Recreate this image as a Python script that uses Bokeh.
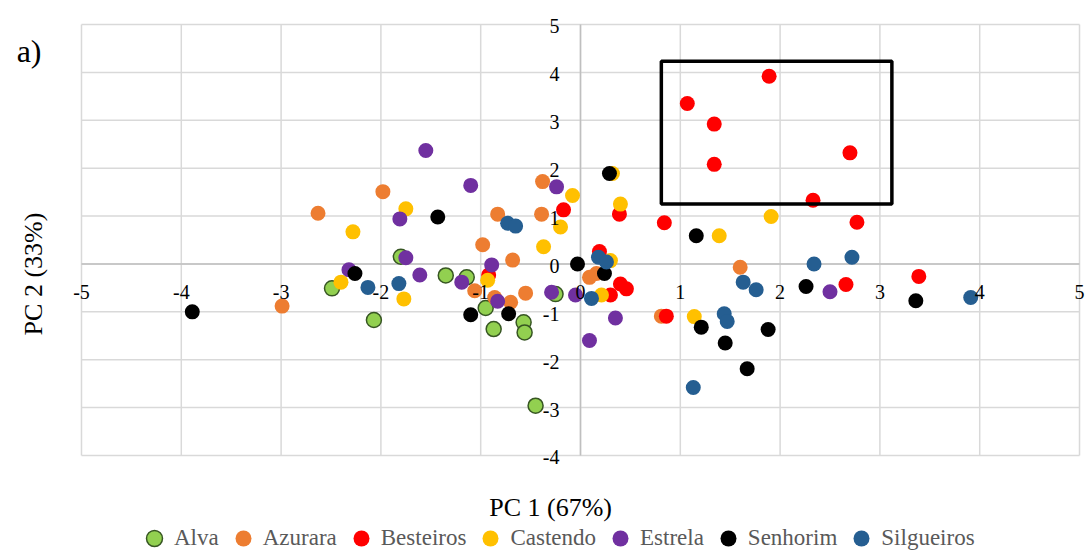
from bokeh.plotting import figure
from bokeh.models import Range1d, Legend, LegendItem, Label
from bokeh.core.properties import value
from bokeh.embed import file_html
from bokeh.resources import INLINE

# PCA scores (PC1, PC2) per region
regions = ["Alva", "Azurara", "Besteiros", "Castendo", "Estrela", "Senhorim", "Silgueiros"]
colors = ["#92D050", "#ED7D31", "#FF0000", "#FFC000", "#7030A0", "#000000", "#255E91"]

alva_pc1 = [-1.80, -2.49, -2.07, -1.35, -1.14, -0.95, -0.87, -0.57, -0.56, -0.25, -0.45]
alva_pc2 = [0.15, -0.51, -1.17, -0.24, -0.28, -0.92, -1.36, -1.22, -1.43, -0.63, -2.96]

azurara_pc1 = [-1.98, -2.63, -2.99, -0.38, -0.83, -0.39, -0.98, -0.68, -1.06, -0.86, -0.70, -0.55, 0.09, 0.16, 0.81, 1.60]
azurara_pc2 = [1.51, 1.06, -0.88, 1.72, 1.04, 1.04, 0.40, 0.08, -0.56, -0.70, -0.80, -0.61, -0.28, -0.20, -1.09, -0.07]

besteiros_pc1 = [1.89, 1.07, 1.34, 1.34, 2.70, 2.33, 2.77, 3.39, 2.66, -0.17, 0.39, 0.84, 0.19, 0.40, 0.46, 0.30, 0.86, -0.92]
besteiros_pc2 = [3.92, 3.35, 2.92, 2.08, 2.32, 1.33, 0.87, -0.26, -0.43, 1.13, 1.04, 0.86, 0.26, -0.42, -0.52, -0.65, -1.09, -0.23]

castendo_pc1 = [-2.28, -1.75, -2.40, -1.77, -0.93, -0.37, -0.08, -0.20, 0.32, 0.40, 0.30, 0.21, 1.14, 1.39, 1.91]
castendo_pc2 = [0.67, 1.15, -0.38, -0.73, -0.34, 0.36, 1.43, 0.77, 1.89, 1.25, 0.07, -0.65, -1.10, 0.59, 0.99]

estrela_pc1 = [-1.55, -1.10, -0.24, -1.81, -1.75, -2.32, -1.61, -1.19, -0.89, -0.83, -0.29, -0.05, 0.35, 0.09, 2.50]
estrela_pc2 = [2.37, 1.64, 1.61, 0.94, 0.13, -0.12, -0.23, -0.38, -0.02, -0.78, -0.59, -0.65, -1.13, -1.60, -0.58]

senhorim_pc1 = [-3.89, -2.26, -1.43, -1.10, -0.72, -0.03, 0.29, 0.24, 1.16, 1.21, 1.45, 1.67, 1.88, 2.26, 3.36]
senhorim_pc2 = [-1.00, -0.20, 0.98, -1.06, -1.04, 0.00, 1.89, -0.20, 0.59, -1.32, -1.65, -2.19, -1.37, -0.47, -0.77]

silgueiros_pc1 = [-2.13, -1.82, -0.73, -0.65, 0.18, 0.26, 0.11, 1.44, 1.47, 1.13, 1.63, 1.76, 2.34, 2.72, 3.91]
silgueiros_pc2 = [-0.49, -0.41, 0.85, 0.79, 0.14, 0.04, -0.72, -1.04, -1.20, -2.58, -0.38, -0.54, 0.00, 0.14, -0.70]

pc1 = [alva_pc1, azurara_pc1, besteiros_pc1, castendo_pc1, estrela_pc1, senhorim_pc1, silgueiros_pc1]
pc2 = [alva_pc2, azurara_pc2, besteiros_pc2, castendo_pc2, estrela_pc2, senhorim_pc2, silgueiros_pc2]

x_ticks = [-5, -4, -3, -2, -1, 0, 1, 2, 3, 4, 5]
y_ticks = [-4, -3, -2, -1, 0, 1, 2, 3, 4, 5]

# highlighted cluster of Besteiros samples
box_left, box_right, box_bottom, box_top = 0.81, 3.12, 1.25, 4.23

SERIF = "Liberation Serif"
W, H = 1086, 552

# The plotting frame fills the whole canvas; the chart area (-5..5, -4..5)
# sits inside it with room left over for titles and the legend.
p = figure(width=W, height=H,
           x_range=Range1d(-5.8116, 5.0701), y_range=Range1d(-6.0256, 5.5011),
           output_backend="svg", toolbar_location=None,
           x_axis_location=None, y_axis_location=None,
           min_border=0, min_border_left=0, min_border_right=0,
           min_border_top=0, min_border_bottom=0)
p.background_fill_color = "white"
p.border_fill_color = "white"
p.outline_line_color = None
p.grid.visible = False

x_min, x_max = min(x_ticks), max(x_ticks)
y_min, y_max = min(y_ticks), max(y_ticks)

# gridlines
p.segment(x0=x_ticks, x1=x_ticks, y0=[y_min] * len(x_ticks), y1=[y_max] * len(x_ticks),
          line_color="#D9D9D9", line_width=1.5)
p.segment(x0=[x_min] * len(y_ticks), x1=[x_max] * len(y_ticks), y0=y_ticks, y1=y_ticks,
          line_color="#D9D9D9", line_width=1.5)
# axis lines through the origin
p.segment(x0=[0, x_min], x1=[0, x_max], y0=[y_min, 0], y1=[y_max, 0],
          line_color="#BFBFBF", line_width=1.5)

items = []
for name, col, xs, ys in zip(regions, colors, pc1, pc2):
    if name == "Alva":
        r = p.scatter(xs, ys, size=15, fill_color=col, line_color="#375623", line_width=1.5)
    else:
        r = p.scatter(xs, ys, size=15, fill_color=col, line_color=None)
    items.append(LegendItem(label=name, renderers=[r]))

p.quad(left=[box_left], right=[box_right], bottom=[box_bottom], top=[box_top],
       fill_color=None, line_color="black", line_width=3.5)

# tick labels along the axes crossing at the origin
p.text(x=x_ticks, y=[0] * len(x_ticks), text=[str(t) for t in x_ticks],
       text_align="center", text_baseline="top", y_offset=21,
       text_font=value(SERIF), text_font_size="20px", text_color="#000000")
p.text(x=[0] * len(y_ticks), y=y_ticks, text=[str(t) for t in y_ticks],
       text_align="right", text_baseline="middle", x_offset=-21, y_offset=2,
       text_font=value(SERIF), text_font_size="20px", text_color="#000000")

legend = Legend(items=items, orientation="horizontal", location=(134, -6),
                glyph_width=40, glyph_height=40, label_standoff=0, spacing=4,
                padding=0, margin=0, border_line_color=None, background_fill_alpha=0,
                label_text_font=SERIF, label_text_font_size="23px", label_text_color="#595959")
p.add_layout(legend, "center")

p.add_layout(Label(x=-0.30, y=-5.08, text="PC 1 (67%)", text_align="center",
                   text_baseline="alphabetic", text_font=SERIF, text_font_size="26px",
                   text_color="#000000"))
p.add_layout(Label(x=-5.48, y=-0.21, text="PC 2 (33%)", angle=1.5708, text_align="center",
                   text_baseline="alphabetic", text_font=SERIF, text_font_size="26px",
                   text_color="#000000"))
p.add_layout(Label(x=-5.65, y=4.45, text="a)", text_align="left",
                   text_baseline="alphabetic", text_font=SERIF, text_font_size="32px",
                   text_color="#000000"))

open("out.html", "w").write(file_html(p, INLINE))
